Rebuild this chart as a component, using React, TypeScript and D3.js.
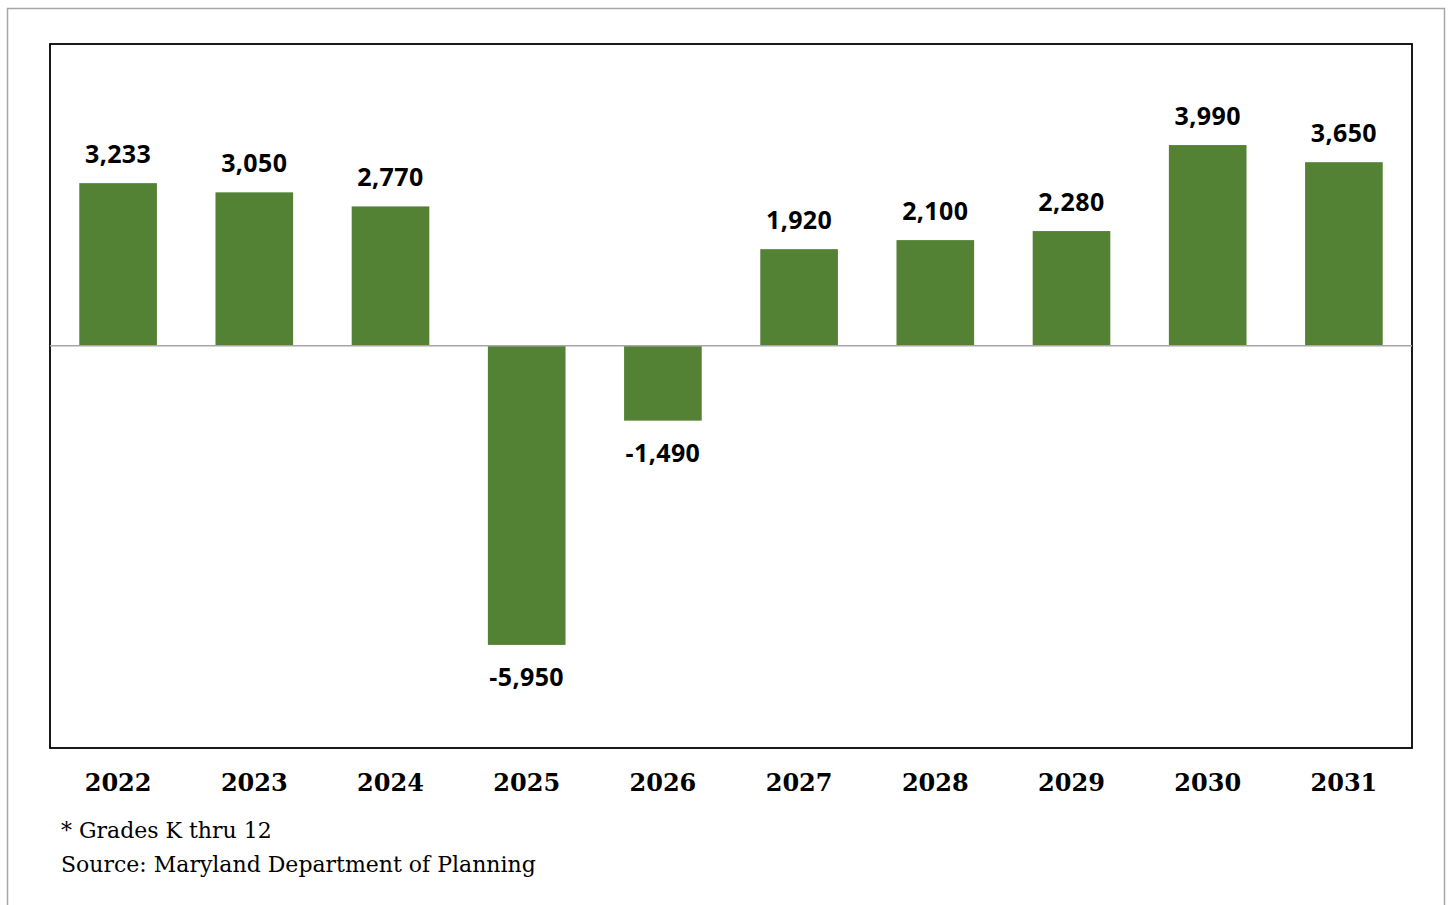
import React from "react";
import * as d3 from "d3";

const years = ["2022", "2023", "2024", "2025", "2026", "2027", "2028", "2029", "2030", "2031"];
const values = [3233, 3050, 2770, -5950, -1490, 1920, 2100, 2280, 3990, 3650];
const footnotes = ["* Grades K thru 12", "Source: Maryland Department of Planning"];

export default function App() {
  const W = 1450, H = 905;
  const plot = { left: 50, right: 1412, top: 44, bottom: 748 };
  const x = d3.scaleBand<string>().domain(years).range([plot.left, plot.right]).paddingInner(0.43).paddingOuter(0.215);
  const y = d3.scaleLinear().domain([-8000, 6000]).range([plot.bottom, plot.top]);
  const fmt = d3.format(",");
  const y0 = y(0);
  return (
    <svg width={W} height={H} style={{ position: "absolute", left: 0, top: 0 }}>
      <rect x={0} y={0} width={W} height={H} fill="#fff" />
      <rect x={7.5} y={8.5} width={1437} height={920} fill="none" stroke="#a6a6a6" strokeWidth={1.5} />
      <rect x={plot.left} y={plot.top} width={plot.right - plot.left} height={plot.bottom - plot.top} fill="#fff" stroke="#000" strokeWidth={1.8} />
      {years.map((yr, i) => {
        const v = values[i];
        const bx = x(yr)!;
        const top = v >= 0 ? y(v) : y0;
        const h = Math.abs(y(v) - y0);
        return (
          <g key={yr}>
            <rect x={bx} y={top} width={x.bandwidth()} height={h} fill="#548235" />
            <text
              x={bx + x.bandwidth() / 2}
              y={v >= 0 ? y(v) - 20 : y(v) + 41}
              textAnchor="middle"
              fontFamily="'Open Sans', 'Noto Sans', sans-serif"
              fontWeight="bold"
              fontSize={25}
              letterSpacing={0.4}
              fill="#000"
            >
              {fmt(v).replace("−", "-")}
            </text>
          </g>
        );
      })}
      <line x1={plot.left} x2={plot.right} y1={y0} y2={y0} stroke="#a6a6a6" strokeWidth={1.5} />
      {years.map((yr) => (
        <text
          key={"l" + yr}
          x={x(yr)! + x.bandwidth() / 2}
          y={791}
          textAnchor="middle"
          fontFamily="'DejaVu Serif', 'Liberation Serif', serif"
          fontWeight="bold"
          fontSize={24}
          fill="#000"
        >
          {yr}
        </text>
      ))}
      {footnotes.map((t, i) => (
        <text key={t} x={61} y={838 + i * 34} fontFamily="'DejaVu Serif', serif" fontSize={22} fill="#000">
          {t}
        </text>
      ))}
    </svg>
  );
}
